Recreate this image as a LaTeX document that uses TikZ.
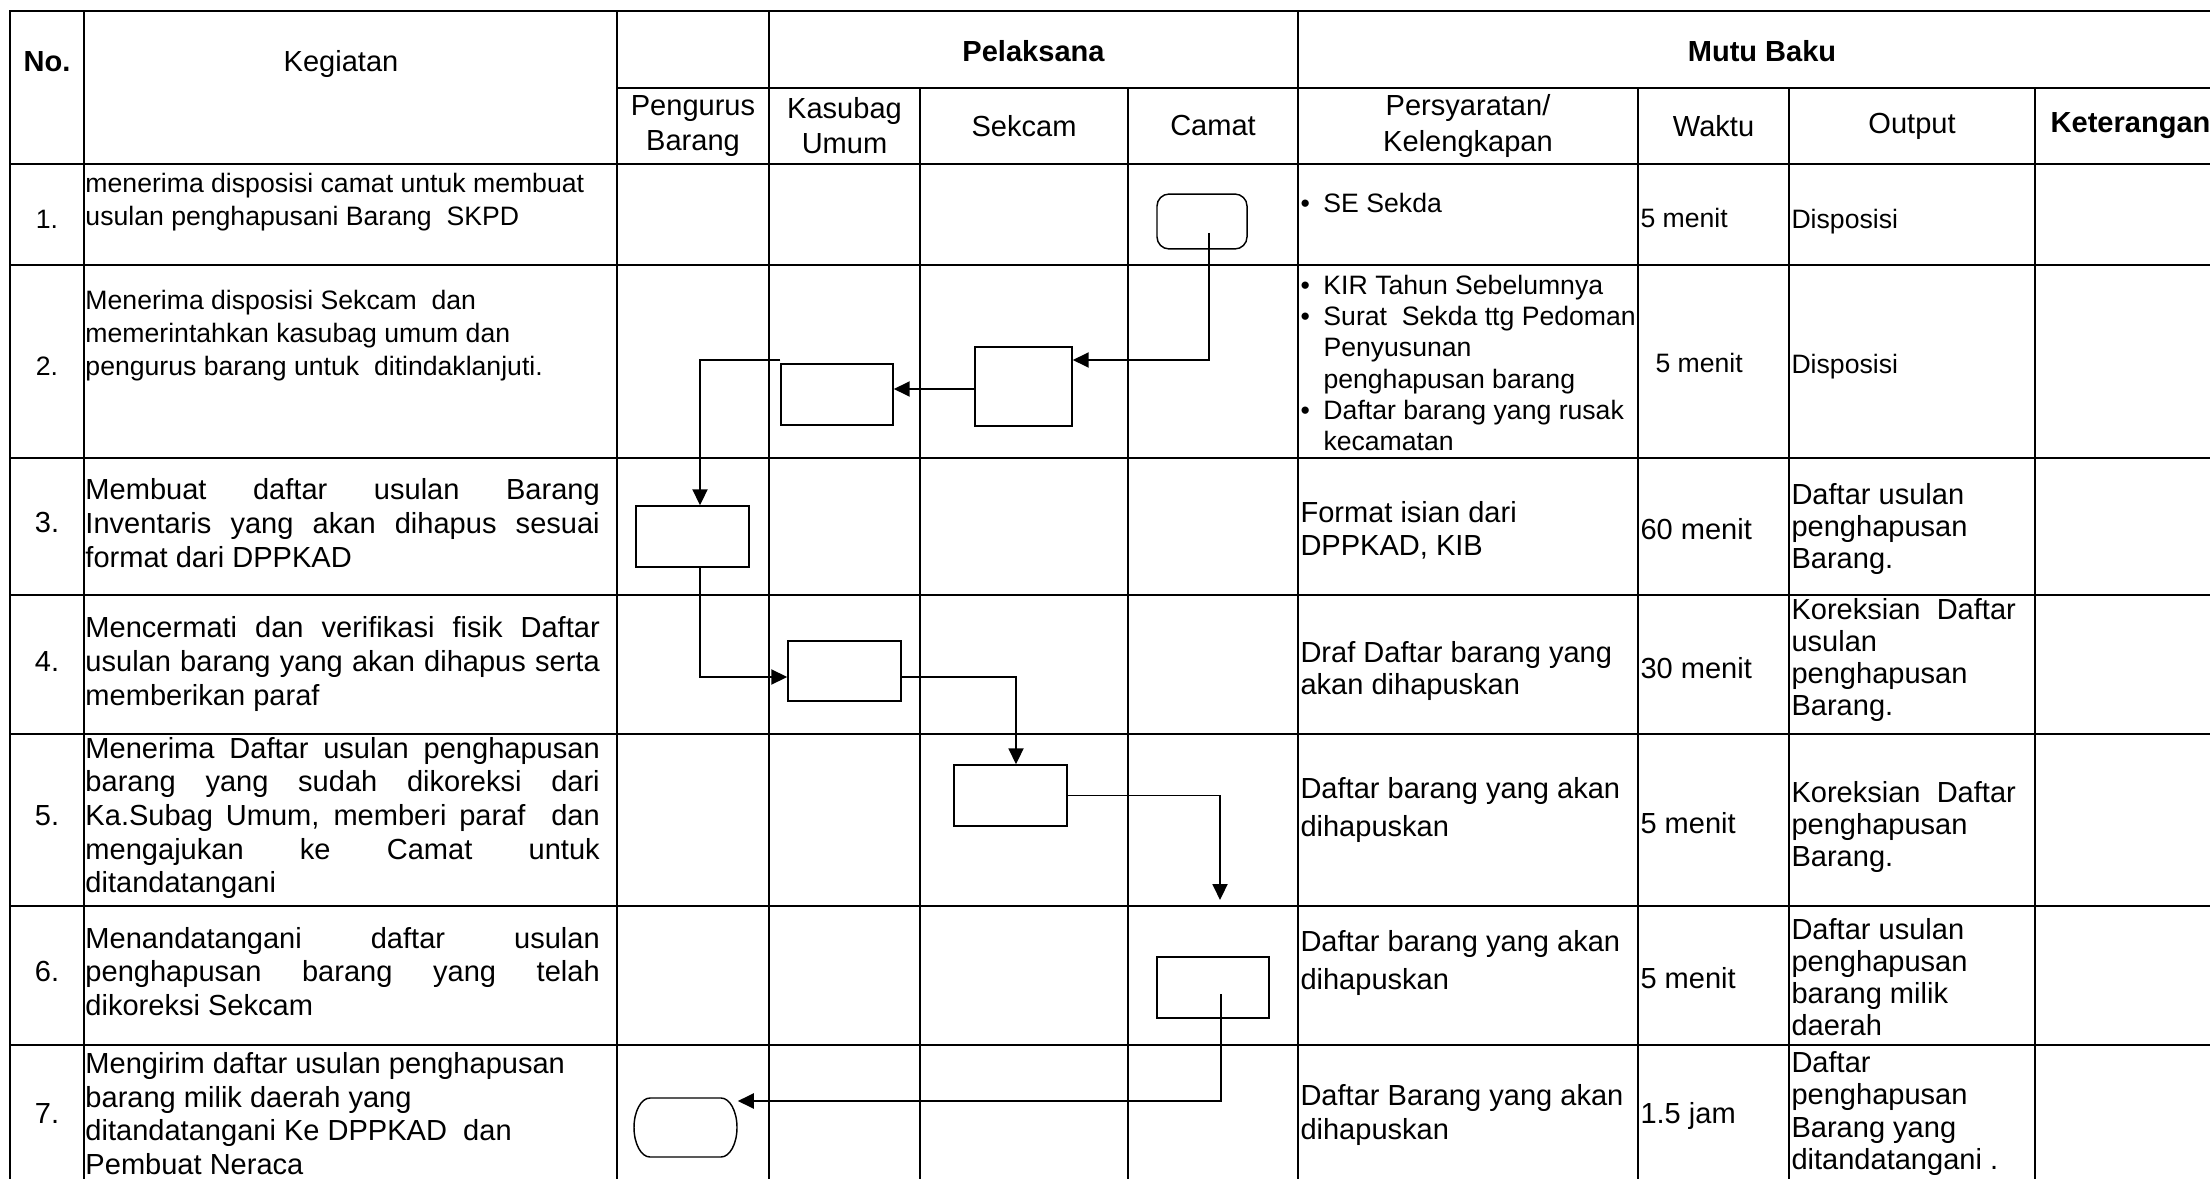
\documentclass[tikz,border=0pt]{standalone}
\usepackage{fontspec}
\setmainfont{Liberation Sans}
\usetikzlibrary{arrows.meta}
\newcommand{\itm}{\makebox[9.5pt][l]{\textbullet}}
\newcommand{\indt}{\hspace*{9.5pt}}

\begin{document}
\begin{tikzpicture}[x=0.4132pt, y=-0.4132pt, >={Triangle[length=6.6pt, width=6.2pt]},
    grid/.style={line width=0.9pt, line cap=rect},
    box/.style 2 args={draw, line width=0.6pt, minimum width=#1, minimum height=#2, inner sep=0pt},
    flow/.style={->, line width=0.8pt},
    hd/.style={inner sep=0pt, align=center, font=\fontsize{12}{14.5}\selectfont},
    hdb/.style={hd, font=\fontsize{12}{14.5}\selectfont\bfseries},
    cell/.style={inner sep=0pt, anchor=west, align=left, font=\fontsize{12}{13.3}\selectfont},
    cellsm/.style={cell, font=\fontsize{11}{13.8}\selectfont},
    act/.style={cell, text width=212.5pt, align=justify,
        font={\fontsize{12}{13.9}\selectfont\tolerance10000 \hyphenpenalty10000 }}]

    % Page
    \useasboundingbox (0,0) rectangle (2210,1179);
    \clip (0,0) rectangle (2210,1179);
    \fill[white] (0,0) rectangle (2210,1179);

    % Table lines
    \draw[grid] (10,11) -- (2226,11);
    \draw[grid] (617,88) -- (2226,88);
    \draw[grid] (10,164) -- (2226,164);
    \draw[grid] (10,265) -- (2226,265);
    \draw[grid] (10,458) -- (2226,458);
    \draw[grid] (10,595) -- (2226,595);
    \draw[grid] (10,734) -- (2226,734);
    \draw[grid] (10,906) -- (2226,906);
    \draw[grid] (10,1045) -- (2226,1045);
    \draw[grid] (10,11) -- (10,1200);
    \draw[grid] (84,11) -- (84,1200);
    \draw[grid] (617,11) -- (617,1200);
    \draw[grid] (769,11) -- (769,1200);
    \draw[grid] (920,88) -- (920,1200);
    \draw[grid] (1128,88) -- (1128,1200);
    \draw[grid] (1298,11) -- (1298,1200);
    \draw[grid] (1638,88) -- (1638,1200);
    \draw[grid] (1789,88) -- (1789,1200);
    \draw[grid] (2035,88) -- (2035,1200);

    % Header
    \node[hdb] (hno) at (47,62) {No.};
    \node[hd] (hkeg) at (341,64) {Kegiatan};
    \node[hdb] (hpel) at (1033.5,51) {Pelaksana};
    \node[hdb] (hmutu) at (1762,51) {Mutu Baku};
    \node[hd] (hpb) at (693,126) {Pengurus\\Barang};
    \node[hd] (hku) at (844.5,126) {Kasubag\\Umum};
    \node[hd] (hsek) at (1024,126) {Sekcam};
    \node[hd] (hcam) at (1213,126) {Camat};
    \node[hd] (hsyr) at (1468,126) {Persyaratan/\\Kelengkapan};
    \node[hd] (hwkt) at (1713.5,126) {Waktu};
    \node[hd] (hout) at (1912,126) {Output};
    \node[hdb] (hket) at (2130.5,126) {Keterangan};

    % Numbers
    \node[cellsm, anchor=center] (n1) at (47,219) {1.};
    \node[cellsm, anchor=center] (n2) at (47,366) {2.};
    \node[cell, anchor=center] (n3) at (47,523) {3.};
    \node[cell, anchor=center] (n4) at (47,662) {4.};
    \node[cell, anchor=center] (n5) at (47,816) {5.};
    \node[cell, anchor=center] (n6) at (47,971) {6.};
    \node[cell, anchor=center] (n7) at (47,1113) {7.};

    % Kegiatan
    \node[cellsm] (k1txt) at (85,202) {menerima disposisi camat untuk membuat\\usulan penghapusani Barang\ \ SKPD};
    \node[cellsm, font=\fontsize{11}{13.6}\selectfont] (k2txt) at (85,336) {Menerima disposisi Sekcam\ \ dan\\memerintahkan kasubag umum dan\\pengurus barang untuk\ \ ditindaklanjuti.};
    \node[act] (k3txt) at (85,523) {Membuat daftar usulan Barang\linebreak Inventaris yang akan dihapus sesuai\linebreak format dari DPPKAD};
    \node[act] (k4txt) at (85,664) {Mencermati dan verifikasi fisik Daftar\linebreak usulan barang yang akan dihapus serta\linebreak memberikan paraf};
    \node[act] (k5txt) at (85,818) {Menerima Daftar usulan penghapusan\linebreak barang yang sudah dikoreksi dari\linebreak Ka.Subag Umum, memberi paraf\ \ dan\linebreak mengajukan ke Camat untuk\linebreak ditandatangani};
    \node[act] (k6txt) at (85,971.5) {Menandatangani daftar usulan\linebreak penghapusan barang yang telah\linebreak dikoreksi Sekcam};
    \node[cell, font=\fontsize{12}{13.9}\selectfont] (k7txt) at (85,1113.5) {Mengirim daftar usulan penghapusan\\barang milik daerah yang\\ditandatangani Ke DPPKAD\ \ dan\\Pembuat Neraca};

    % Persyaratan
    \node[cellsm] (p1txt) at (1300,203) {\itm SE Sekda};
    \node[cellsm, font=\fontsize{11}{12.95}\selectfont] (p2txt) at (1300,363) {\itm KIR Tahun Sebelumnya\\\itm Surat\ \ Sekda ttg Pedoman\\\indt Penyusunan\\\indt penghapusan barang\\\itm Daftar barang yang rusak\\\indt kecamatan};
    \node[cell, font=\fontsize{12}{13.6}\selectfont] (p3txt) at (1300,530) {Format isian dari\\DPPKAD, KIB};
    \node[cell, font=\fontsize{12}{13.6}\selectfont] (p4txt) at (1300,671) {Draf Daftar barang yang\\akan dihapuskan};
    \node[cell, font=\fontsize{12}{15.7}\selectfont] (p5txt) at (1300,810) {Daftar barang yang akan\\dihapuskan};
    \node[cell, font=\fontsize{12}{15.5}\selectfont] (p6txt) at (1300,963) {Daftar barang yang akan\\dihapuskan};
    \node[cell, font=\fontsize{12}{13.8}\selectfont] (p7txt) at (1300,1115) {Daftar Barang yang akan\\dihapuskan};

    % Waktu
    \node[cellsm] (w1) at (1640,218) {5 menit};
    \node[cellsm] (w2) at (1655,363) {5 menit};
    \node[cell] (w3) at (1640,529) {60 menit};
    \node[cell] (w4) at (1640,668) {30 menit};
    \node[cell] (w5) at (1640,823) {5 menit};
    \node[cell] (w6) at (1640,978) {5 menit};
    \node[cell] (w7) at (1640,1116) {1.5 jam};

    % Output
    \node[cellsm] (o1) at (1791,222) {Disposisi};
    \node[cellsm] (o2) at (1791,367) {Disposisi};
    \node[cell] (o3) at (1791,529) {Daftar usulan\\penghapusan\\Barang.};
    \node[cell] (o4) at (1791,660) {Koreksian\ \ Daftar\\usulan\\penghapusan\\Barang.};
    \node[cell] (o5) at (1791,827) {Koreksian\ \ Daftar\\penghapusan\\Barang.};
    \node[cell] (o6) at (1791,977) {Daftar usulan\\penghapusan\\barang milik\\daerah};
    \node[cell] (o7) at (1791,1113.5) {Daftar\\penghapusan\\Barang yang\\ditandatangani .};

    % Flow boxes
    \node[box={37.2pt}{22.7pt}, rounded corners=5pt] (c1) at (1202,221.5) {};
    \node[box={40.1pt}{32.6pt}] (s2) at (1023.5,386.5) {};
    \node[box={46.3pt}{25.2pt}] (k2) at (837,394.5) {};
    \node[box={46.7pt}{25.2pt}] (p3) at (692.5,536.5) {};
    \node[box={46.7pt}{24.8pt}] (k4) at (844.5,671) {};
    \node[box={46.7pt}{25.2pt}] (s5) at (1010.5,795.5) {};
    \node[box={46.3pt}{25.2pt}] (c6) at (1213,987.5) {};
    \node[box={42.6pt}{24.4pt}, draw=none] (p7) at (685.5,1127.5) {};

    % Terminator outline
    \draw[line width=0.6pt] (650,1098) -- (721,1098)
        .. controls (729.8,1098) and (737,1111.2) .. (737,1127.5)
        .. controls (737,1143.8) and (729.8,1157) .. (721,1157) -- (650,1157)
        .. controls (641.2,1157) and (634,1143.8) .. (634,1127.5)
        .. controls (634,1111.2) and (641.2,1098) .. (650,1098) -- cycle;

    % Connectors
    \coordinate (c1in) at (1209,233);
    \coordinate (s5end) at (1220,900);
    \coordinate (c6in) at (1221,994);
    \draw[flow] (c1in) |- (s2.east |- 0,360);
    \draw[flow] (s2.west |- 0,389) -- (k2.east |- 0,389);
    \draw[flow] (k2.west |- 0,360) -| (700,0 |- p3.north);
    \draw[flow] (700,0 |- p3.south) |- (k4.west |- 0,677);
    \draw[flow] (k4.east |- 0,677) -| (1016,0 |- s5.north);
    \draw[flow] (s5.east) -| (s5end);
    \draw[flow] (c6in) |- (p7.east |- 0,1101);
\end{tikzpicture}
\end{document}
